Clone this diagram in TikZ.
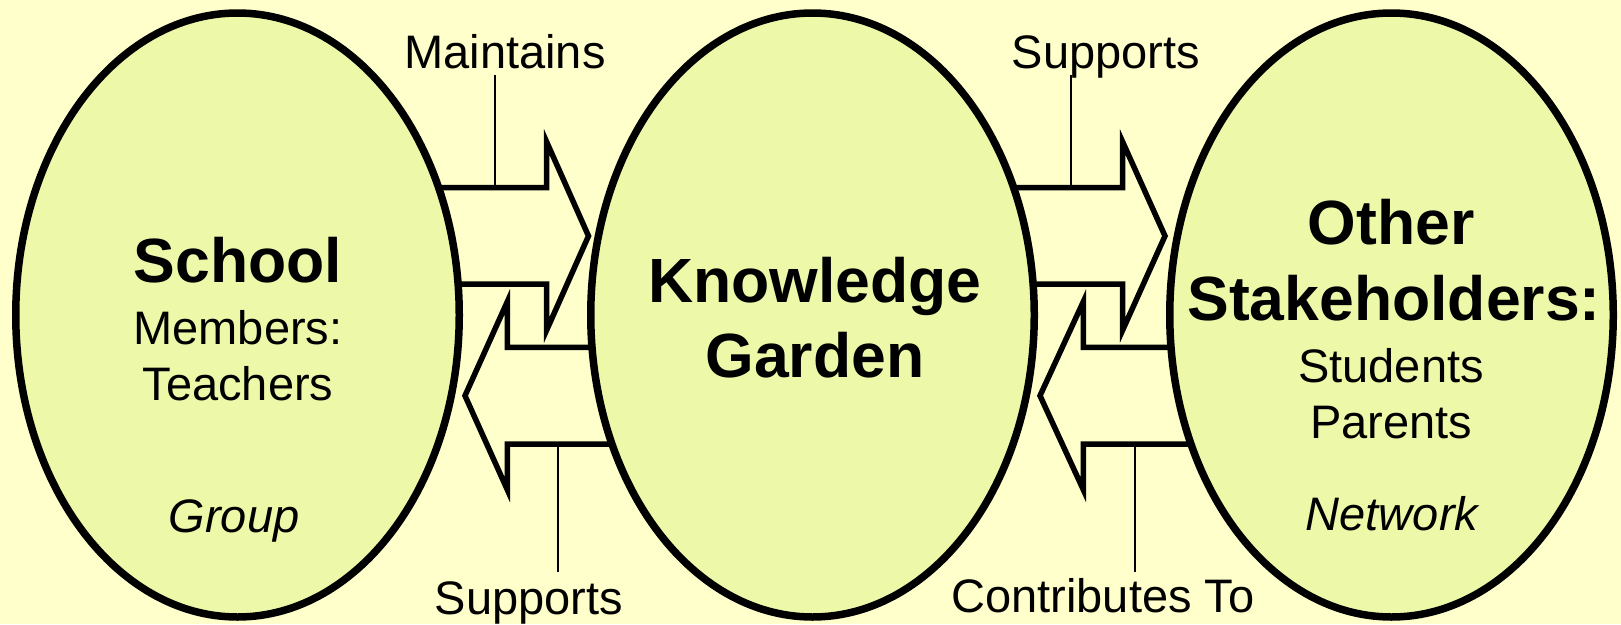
\documentclass[tikz,border=0pt]{standalone}
\usepackage{fontspec}
\setmainfont{Liberation Sans}
\usetikzlibrary{shapes.geometric}
\definecolor{bgyellow}{RGB}{255,255,204}
\definecolor{ellgreen}{RGB}{237,249,168}
\begin{document}
\begin{tikzpicture}[x=1pt,y=-1pt,
  ell/.style={draw=black,line width=7.5pt,fill=ellgreen,ellipse,minimum width=443.5pt,minimum height=604pt,inner sep=0pt},
  blockarrow/.style={draw=black,line width=5.5pt,fill=bgyellow,line join=miter,miter limit=10},
  lead/.style={draw=black,line width=2pt},
  lbl/.style={anchor=base,inner sep=0pt,font=\fontsize{47}{56}\selectfont},
  big/.style={anchor=base,inner sep=0pt,font=\fontsize{62.5}{75}\selectfont\bfseries},
  reg/.style={anchor=base,inner sep=0pt,font=\fontsize{47}{56}\selectfont},
  ital/.style={anchor=base,inner sep=0pt,font=\fontsize{47}{56}\selectfont\itshape}]
\useasboundingbox[fill=bgyellow] (0,0) rectangle (1621,624);
% block arrows
\path[blockarrow] (420,187.7) -- (546.7,187.7) -- (546.7,142) -- (588.5,236) -- (546.7,330) -- (546.7,284) -- (420,284) -- cycle;
\path[blockarrow] (640,347.3) -- (507.3,347.3) -- (507.3,301.7) -- (465,395.7) -- (507.3,489.7) -- (507.3,444) -- (640,444) -- cycle;
\path[blockarrow] (996,187.7) -- (1122.7,187.7) -- (1122.7,142) -- (1165,236) -- (1122.7,330) -- (1122.7,284) -- (996,284) -- cycle;
\path[blockarrow] (1216,347.3) -- (1083.3,347.3) -- (1083.3,301.7) -- (1040,395.7) -- (1083.3,489.7) -- (1083.3,444) -- (1216,444) -- cycle;
% ellipses
\node[ell] (school) at (237.5,315) {};
\node[ell] (garden) at (812.5,315) {};
\node[ell] (others) at (1391.5,315) {};
% ellipse texts
\node[big] (t1) at (238,282) {School};
\node[reg] (t2) at (238,344) {Members:};
\node[reg] (t3) at (238,400) {Teachers};
\node[ital] (t4) at (234,532) {Group};
\node[big] (t5) at (815,302) {Knowledge};
\node[big] (t6) at (815,377) {Garden};
\node[big] (t7) at (1391,244) {Other};
\node[big] (t8) at (1394,320) {Stakeholders:};
\node[reg] (t9) at (1391,382.5) {Students};
\node[reg] (t10) at (1391,438) {Parents};
\node[ital] (t11) at (1392,530) {Network};
% arrow labels
\node[lbl] (l1) at (505,68.3) {Maintains};
\node[lbl] (l2) at (1106,68.3) {Supports};
\node[lbl] (l3) at (529,614) {Supports};
\node[lbl] (l4) at (1103,612) {Contributes To};
\coordinate (l1a) at (495,75);   \coordinate (l1b) at (495,187.7);
\coordinate (l2a) at (1071,75);  \coordinate (l2b) at (1071,187.7);
\coordinate (l3a) at (558,572);  \coordinate (l3b) at (558,444);
\coordinate (l4a) at (1135,572); \coordinate (l4b) at (1135,444);
\draw[lead] (l1a) -- (l1b);
\draw[lead] (l2a) -- (l2b);
\draw[lead] (l3a) -- (l3b);
\draw[lead] (l4a) -- (l4b);
\end{tikzpicture}
\end{document}
